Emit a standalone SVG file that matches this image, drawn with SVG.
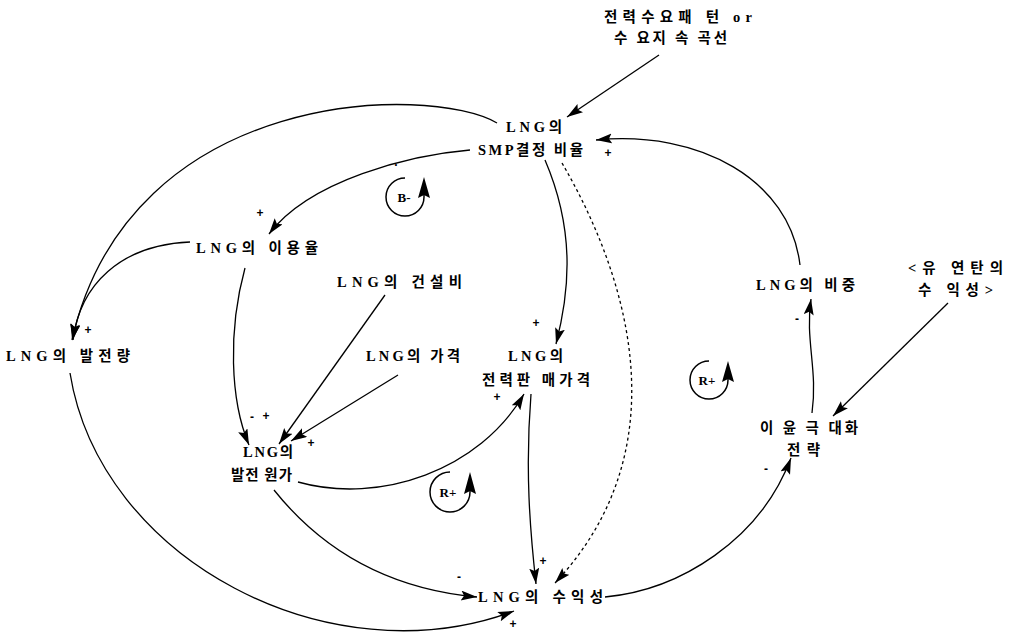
<svg xmlns="http://www.w3.org/2000/svg" width="1021" height="637" viewBox="0 0 1021 637">
<style>
.t{font-family:"Liberation Serif","Noto Sans CJK KR",serif;font-size:14.5px;font-weight:bold;fill:#000}
.s{font-family:"Liberation Sans","Noto Sans CJK KR",sans-serif;font-size:12px;font-weight:bold;fill:#000}
.l{font-family:"Liberation Serif",serif;font-size:13px;font-weight:bold;fill:#000}
.c{fill:none;stroke:#000;stroke-width:1.3;marker-end:url(#ah)}
.d{stroke-dasharray:3,3}
.lp{fill:none;stroke:#000;stroke-width:1.5}
</style>
<defs>
<marker id="ah" markerUnits="userSpaceOnUse" markerWidth="18" markerHeight="12" refX="16" refY="5" orient="auto">
<path d="M0,0 L16,5 L0,10 L3,5 Z" fill="#000"/>
</marker>
</defs>
<rect width="1021" height="637" fill="#fff"/>
<g id="connectors">
<path class="c" d="M659,55 L567,117"/>
<path class="c" d="M497,123 C430,84 130,86 72,340"/>
<path class="c" d="M470,150 C410,155 310,180 269,234"/>
<path class="c" d="M190,242 C120,245 80,285 73,340"/>
<path class="c" d="M245,268 C228,330 230,400 249,445"/>
<path class="c" d="M385,295 L279,444"/>
<path class="c" d="M398,375 L291,441"/>
<path class="c" d="M545,160 C575,230 570,290 556,344"/>
<path class="c" d="M298,482 C380,505 480,470 524,394"/>
<path class="c" d="M531,394 C525,470 530,530 536,584"/>
<path class="c d" d="M562,163 C630,280 680,450 555,583"/>
<path class="c" d="M274,490 C330,560 400,590 477,597"/>
<path class="c" d="M70,373 C100,560 330,680 514,611"/>
<path class="c" d="M605,597 C680,590 760,540 791,458"/>
<path class="c" d="M812,413 C818,370 805,340 811,299"/>
<path class="c" d="M800,265 C790,180 700,130 596,140"/>
<path class="c" d="M948,303 L833,416"/>
</g>
<g id="loop-b">
<path class="lp" d="M405,178 A19,19 0 1 0 424,197 L424,184"/>
<path d="M418,198 L424,177 L430,198 L424,195 Z" fill="#000"/>
<text class="l" x="404" y="202" text-anchor="middle">B-</text>
<text class="s" x="396" y="166" text-anchor="middle">.</text>
</g>
<g id="loop-r1">
<path class="lp" d="M709,361 A19,19 0 1 0 728,380 L728,368"/>
<path d="M722,382 L728,361 L734,382 L728,379 Z" fill="#000"/>
<text class="l" x="707" y="385" text-anchor="middle">R+</text>
</g>
<g id="loop-r2">
<path class="lp" d="M450,472 A20,20 0 1 0 470,492 L470,480"/>
<path d="M464,494 L470,472 L476,494 L470,491 Z" fill="#000"/>
<text class="l" x="448" y="497" text-anchor="middle">R+</text>
</g>
<g id="n-demand"><text class="t" x="604" y="22" textLength="148" lengthAdjust="spacing">전력수요패 턴 or</text><text class="t" x="614" y="43" textLength="113" lengthAdjust="spacing">수 요지 속 곡선</text></g>
<g id="n-smp"><text class="t" x="506" y="132" textLength="56" lengthAdjust="spacing">LNG의</text><text class="t" x="478" y="155" textLength="105" lengthAdjust="spacing">SMP결정 비율</text></g>
<g id="n-util"><text class="t" x="196" y="253" textLength="122" lengthAdjust="spacing">LNG의 이용율</text></g>
<g id="n-cons"><text class="t" x="337" y="287" textLength="125" lengthAdjust="spacing">LNG의 건설비</text></g>
<g id="n-gen"><text class="t" x="6" y="361" textLength="124" lengthAdjust="spacing">LNG의 발전량</text></g>
<g id="n-price"><text class="t" x="366" y="361" textLength="94" lengthAdjust="spacing">LNG의 가격</text></g>
<g id="n-sale"><text class="t" x="508" y="361" textLength="55" lengthAdjust="spacing">LNG의</text><text class="t" x="482" y="385" textLength="108" lengthAdjust="spacing">전력판 매가격</text></g>
<g id="n-cost"><text class="t" x="243" y="457" textLength="50" lengthAdjust="spacing">LNG의</text><text class="t" x="231" y="480" textLength="61" lengthAdjust="spacing">발전 원가</text></g>
<g id="n-profit"><text class="t" x="478" y="602" textLength="125" lengthAdjust="spacing">LNG의 수익성</text></g>
<g id="n-share"><text class="t" x="756" y="290" textLength="99" lengthAdjust="spacing">LNG의 비중</text></g>
<g id="n-coal"><text class="t" x="908" y="273" textLength="95" lengthAdjust="spacing">&lt;유 연탄의</text><text class="t" x="918" y="295" textLength="75" lengthAdjust="spacing">수 익성&gt;</text></g>
<g id="n-strategy"><text class="t" x="760" y="433" textLength="98" lengthAdjust="spacing">이 윤 극 대화</text><text class="t" x="787" y="455" textLength="33" lengthAdjust="spacing">전 략</text></g>
<g id="signs">
<text class="s" x="608" y="157" text-anchor="middle">+</text>
<text class="s" x="260" y="217" text-anchor="middle">+</text>
<text class="s" x="88" y="334" text-anchor="middle">+</text>
<text class="s" x="536" y="327" text-anchor="middle">+</text>
<text class="s" x="497" y="401" text-anchor="middle">+</text>
<text class="s" x="252" y="421" text-anchor="middle">-</text>
<text class="s" x="266" y="420" text-anchor="middle">+</text>
<text class="s" x="311" y="447" text-anchor="middle">+</text>
<text class="s" x="797" y="323" text-anchor="middle">-</text>
<text class="s" x="766" y="473" text-anchor="middle">-</text>
<text class="s" x="543" y="565" text-anchor="middle">+</text>
<text class="s" x="459" y="581" text-anchor="middle">-</text>
<text class="s" x="513" y="628" text-anchor="middle">+</text>
</g>
</svg>
